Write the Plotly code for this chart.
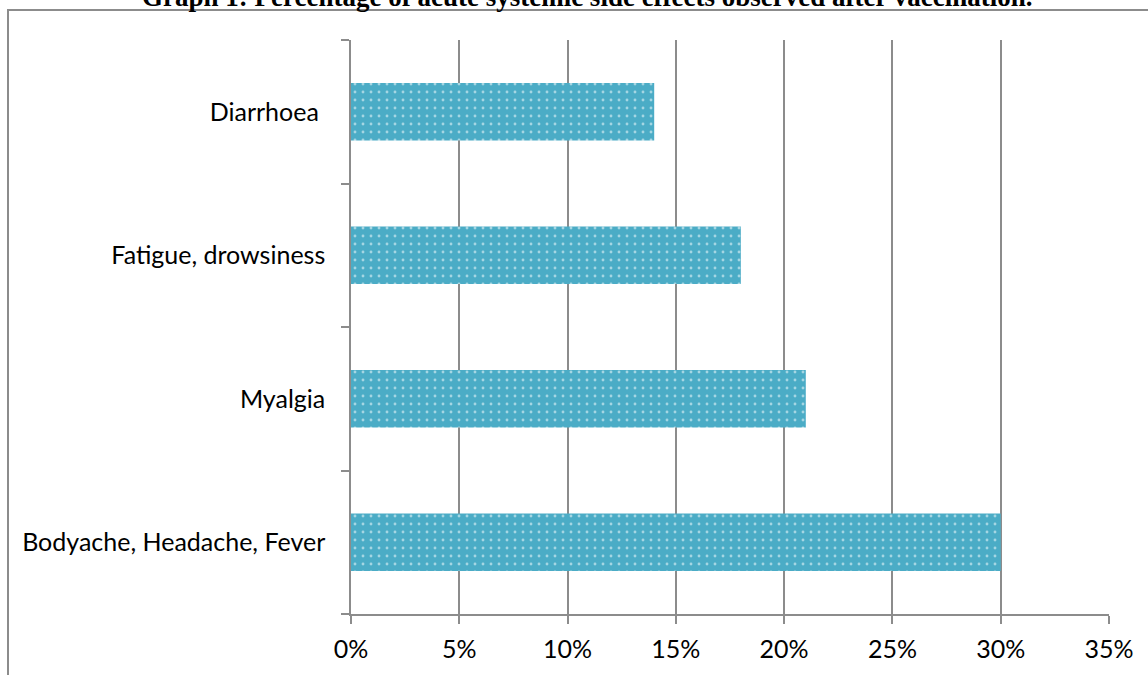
import plotly.graph_objects as go

# Data (bottom to top as plotted)
categories = ["Bodyache, Headache, Fever", "Myalgia", "Fatigue, drowsiness", "Diarrhoea\u00a0"]
values = [0.30, 0.21, 0.18, 0.14]
x_ticks = [0, 0.05, 0.10, 0.15, 0.20, 0.25, 0.30, 0.35]
x_tick_labels = ["0%", "5%", "10%", "15%", "20%", "25%", "30%", "35%"]
title_text = "Graph 1: Percentage of acute systemic side effects observed after vaccination."

W, H = 1148, 675
ML, MR, MT, MB = 351, 39, 40, 61
PW, PH = W - ML - MR, H - MT - MB

BAR = "#4BACC6"
GRID = "#8c8c8c"
FONT = "Lato, Carlito, Calibri, sans-serif"

fig = go.Figure(go.Bar(
    x=values, y=categories, orientation="h",
    marker=dict(color=BAR, line=dict(width=0),
                pattern=dict(shape=".", fgcolor="white", bgcolor=BAR,
                             size=8, solidity=0.1, fillmode="overlay")),
    hoverinfo="skip",
))

def px_x(p):
    return (p - ML) / PW

def px_y(p):
    return 1 - (p - MT) / PH

fig.update_layout(
    width=W, height=H,
    margin=dict(l=ML, r=MR, t=MT, b=MB, pad=0),
    paper_bgcolor="white", plot_bgcolor="white",
    bargap=0.6, showlegend=False,
    xaxis=dict(range=[0, 0.35], tickvals=x_ticks, ticktext=x_tick_labels,
               showgrid=True, gridcolor=GRID, gridwidth=1.5,
               showline=True, linecolor=GRID, linewidth=1.5,
               ticks="outside", ticklen=8, tickcolor=GRID, tickwidth=1.5,
               tickfont=dict(family=FONT, size=25, color="black"),
               ticklabelstandoff=4,
               zeroline=False, fixedrange=True),
    yaxis=dict(showgrid=False, showline=True, linecolor=GRID, linewidth=1.5,
               ticks="outside", ticklen=8, tickcolor=GRID, tickwidth=1.5,
               tickson="boundaries",
               tickfont=dict(family=FONT, size=25, color="black"),
               ticklabelstandoff=19, fixedrange=True),
    annotations=[dict(text="<b>" + title_text + "</b>", xref="paper", yref="paper",
                      x=px_x(587), y=px_y(-3), xanchor="center", yanchor="middle",
                      showarrow=False,
                      font=dict(family="Liberation Serif, Times New Roman, serif",
                                size=27, color="black"))],
    shapes=[
        dict(type="line", xref="paper", yref="paper",
             x0=px_x(7), x1=px_x(1160), y0=px_y(10), y1=px_y(10),
             line=dict(color=GRID, width=2)),
        dict(type="line", xref="paper", yref="paper",
             x0=px_x(8), x1=px_x(8), y0=px_y(10), y1=px_y(690),
             line=dict(color=GRID, width=2)),
    ],
)

fig.write_html("out.html")
